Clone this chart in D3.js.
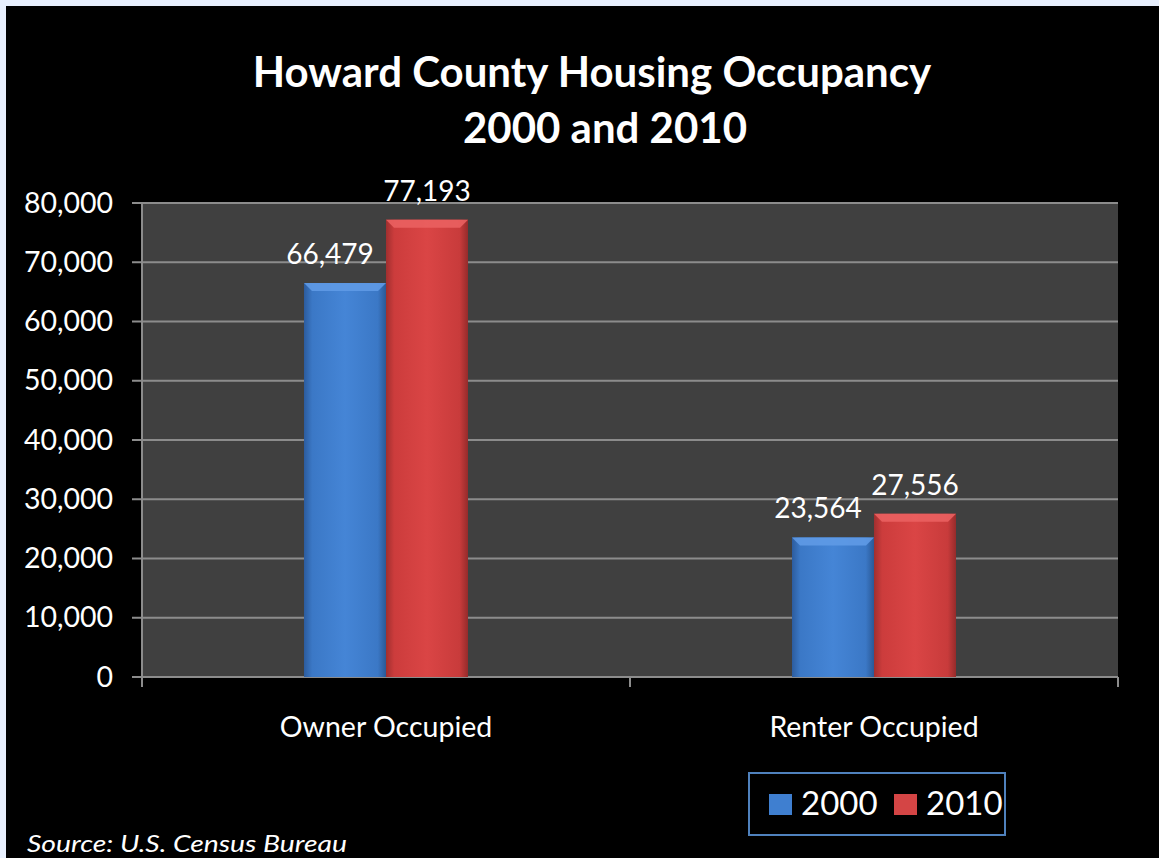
<!DOCTYPE html>
<html><head><meta charset="utf-8">
<script src="https://cdn.jsdelivr.net/npm/d3@7"></script>
<style>
html,body{margin:0;padding:0;background:#e8f0fe;}
svg{display:block;}
text{font-family:Lato,"Open Sans",sans-serif;fill:#fff;}
</style></head><body>
<svg id="c" width="1159" height="858"></svg>
<script>
const categories = ["Owner Occupied", "Renter Occupied"];
const seriesNames = ["2000", "2010"];
const values2000 = [66479, 23564];
const values2010 = [77193, 27556];
const yTicks = [0, 10000, 20000, 30000, 40000, 50000, 60000, 70000, 80000];
const titleLines = ["Howard County Housing Occupancy", "2000 and 2010"];
const sourceText = "Source: U.S. Census Bureau";

(function () {
const svg = d3.select("#c");
const W = 1159, H = 858;
svg.append("rect").attr("x", 6).attr("y", 6).attr("width", W - 6).attr("height", H - 6).attr("fill", "#000");

const defs = svg.append("defs");
function grad(id, stops) {
  const g = defs.append("linearGradient").attr("id", id).attr("x1", "0").attr("x2", "1").attr("y1", "0").attr("y2", "0");
  stops.forEach(s => g.append("stop").attr("offset", s[0]).attr("stop-color", s[1]));
}
grad("gBlue", [[0, "#2c5c9e"], [0.1, "#3b78c6"], [0.5, "#4585d6"], [0.9, "#3b78c6"], [1, "#2a5996"]]);
grad("gRed", [[0, "#a02f2f"], [0.1, "#cc3c3c"], [0.5, "#da4545"], [0.9, "#c83b3b"], [1, "#952b2b"]]);
const colors = ["url(#gBlue)", "url(#gRed)"];
const topColors = ["#5f9ae6", "#ea6060"];
const swatchColors = ["#3f7fd0", "#d44545"];
const labelShift = [-15, 0];

const pl = 142, pr = 1118, pt = 203, pb = 677;
const barW = 82;
const x0 = d3.scaleBand().domain(categories).range([pl, pr]);
const x1 = d3.scaleBand().domain(seriesNames).range([-barW, barW]);
const y = d3.scaleLinear().domain([0, 80000]).range([pb, pt]);

svg.append("rect").attr("x", pl).attr("y", pt).attr("width", pr - pl).attr("height", pb - pt).attr("fill", "#404040");

svg.append("g").selectAll("line").data(yTicks).join("line")
  .attr("x1", pl - 10).attr("x2", pr).attr("y1", d => y(d)).attr("y2", d => y(d))
  .attr("stroke", "#8c8c8c").attr("stroke-width", 2);

const yAxis = d3.axisLeft(y).tickValues(yTicks).tickFormat(d3.format(",")).tickSize(0).tickPadding(29);
const ya = svg.append("g").attr("transform", `translate(${pl},0)`).call(yAxis);
ya.select(".domain").remove();
ya.selectAll("text").attr("fill", "#fff").style("font-size", "28.5px").style("font-family", "Lato, sans-serif");
svg.append("line").attr("x1", pl).attr("x2", pl).attr("y1", pt).attr("y2", pb + 10).attr("stroke", "#8c8c8c").attr("stroke-width", 2);

const xt = [pl, pl + x0.bandwidth(), pr];
svg.append("g").selectAll("line").data(xt).join("line")
  .attr("x1", d => d).attr("x2", d => d).attr("y1", pb).attr("y2", pb + 10)
  .attr("stroke", "#8c8c8c").attr("stroke-width", 2);

const xa = svg.append("g").attr("transform", `translate(0,${pb})`)
  .call(d3.axisBottom(x0).tickSize(0).tickPadding(40));
xa.select(".domain").remove();
xa.selectAll("text").attr("fill", "#fff").style("font-size", "28.5px").style("font-family", "Lato, sans-serif");

const series = [values2000, values2010];
categories.forEach((c, i) => {
  seriesNames.forEach((s, j) => {
    const v = series[j][i];
    const cx = x0(c) + x0.bandwidth() / 2;
    const bx = cx + x1(s);
    const bw = x1.bandwidth();
    const by = y(v);
    const g = svg.append("g");
    g.append("rect").attr("x", bx).attr("y", by).attr("width", bw).attr("height", pb - by).attr("fill", colors[j]);
    g.append("path").attr("d", `M${bx},${by} L${bx + bw},${by} L${bx + bw - 8},${by + 8} L${bx + 8},${by + 8} Z`).attr("fill", topColors[j]).attr("opacity", 0.9);
    g.append("text").attr("x", bx + bw / 2 + labelShift[j]).attr("y", by - 19)
      .attr("text-anchor", "middle").style("font-size", "28px").text(d3.format(",")(v));
  });
});

const titleX = [592, 605];
svg.append("g").selectAll("text").data(titleLines).join("text")
  .attr("x", (d, i) => titleX[i]).attr("y", (d, i) => 87 + i * 56).attr("text-anchor", "middle")
  .style("font-size", "42px").style("font-weight", "bold").text(d => d);

svg.append("rect").attr("x", 749).attr("y", 773).attr("width", 256).attr("height", 62)
  .attr("fill", "none").attr("stroke", "#4f81bd").attr("stroke-width", 2);
const legX = [769, 894];
seriesNames.forEach((s, j) => {
  svg.append("rect").attr("x", legX[j]).attr("y", 794).attr("width", 23).attr("height", 21).attr("fill", swatchColors[j]);
  svg.append("text").attr("x", legX[j] + 32).attr("y", 815).style("font-size", "33px").text(s);
});

svg.append("text").attr("x", 27).attr("y", 852).style("font-size", "23px").style("font-style", "italic")
  .attr("textLength", 320).attr("lengthAdjust", "spacingAndGlyphs").text(sourceText);
})();
</script>
</body></html>
